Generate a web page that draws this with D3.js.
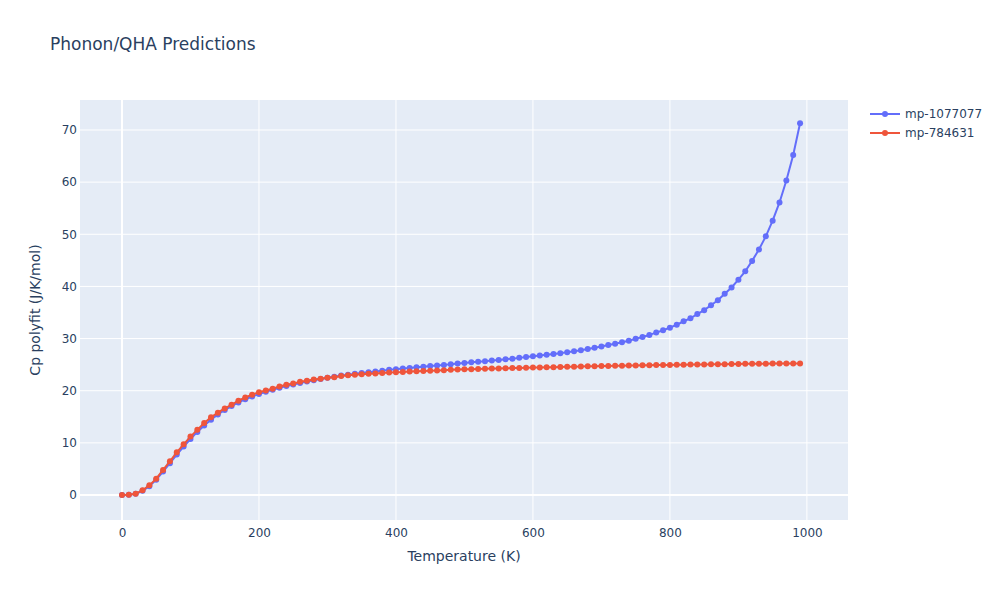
<!DOCTYPE html>
<html>
<head>
<meta charset="utf-8">
<script src="https://cdn.jsdelivr.net/npm/d3@7"></script>
<style>
  body { margin: 0; background: #fff; }
  svg text { font-family: "DejaVu Sans", verdana, arial, sans-serif; }
</style>
</head>
<body>
<svg id="chart" width="1000" height="600"></svg>
<script>
const temperatures = d3.range(0, 1000, 10);

const seriesNames = ["mp-1077077", "mp-784631"];

const cpBlue = [
  0, 0.05, 0.22, 0.8, 1.7, 2.95, 4.5, 6.1, 7.75, 9.3,
  10.75, 12.1, 13.35, 14.45, 15.45, 16.3, 17.05, 17.75, 18.35, 18.9,
  19.35, 19.8, 20.2, 20.55, 20.9, 21.2, 21.5, 21.75, 22.0, 22.25,
  22.5, 22.7, 22.9, 23.05, 23.25, 23.4, 23.55, 23.7, 23.85, 24.0,
  24.1, 24.25, 24.35, 24.5, 24.6, 24.75, 24.85, 24.95, 25.1, 25.2,
  25.3, 25.45, 25.55, 25.65, 25.8, 25.9, 26.05, 26.15, 26.3, 26.45,
  26.6, 26.75, 26.9, 27.05, 27.2, 27.4, 27.55, 27.75, 28.0, 28.25,
  28.5, 28.75, 29.0, 29.3, 29.6, 29.95, 30.3, 30.7, 31.15, 31.6,
  32.1, 32.65, 33.3, 33.9, 34.7, 35.45, 36.4, 37.35, 38.6, 39.8,
  41.3, 42.9, 44.9, 47.1, 49.6, 52.6, 56.1, 60.3, 65.2, 71.3
];

const cpRed = [
  0, 0.06, 0.25, 0.9, 1.85, 3.13, 4.8, 6.46, 8.18, 9.72,
  11.2, 12.5, 13.8, 14.9, 15.8, 16.6, 17.3, 18.1, 18.7, 19.25,
  19.7, 20.05, 20.4, 20.8, 21.15, 21.4, 21.7, 21.9, 22.15, 22.3,
  22.5, 22.6, 22.8, 22.95, 23.05, 23.15, 23.25, 23.3, 23.4, 23.5,
  23.55, 23.6, 23.7, 23.75, 23.8, 23.85, 23.9, 23.95, 24.0, 24.05,
  24.1, 24.13, 24.17, 24.2, 24.24, 24.28, 24.31, 24.34, 24.37, 24.4,
  24.43, 24.46, 24.49, 24.52, 24.55, 24.58, 24.61, 24.64, 24.67, 24.7,
  24.73, 24.76, 24.79, 24.81, 24.83, 24.85, 24.87, 24.89, 24.91, 24.93,
  24.95, 24.97, 24.99, 25.01, 25.03, 25.05, 25.07, 25.09, 25.1, 25.12,
  25.13, 25.15, 25.16, 25.18, 25.19, 25.2, 25.21, 25.22, 25.23, 25.24
];

const xTicks = [0, 200, 400, 600, 800, 1000];
const yTicks = [0, 10, 20, 30, 40, 50, 60, 70];

const titleText = "Phonon/QHA Predictions";
const xTitle = "Temperature (K)";
const yTitle = "Cp polyfit (J/K/mol)";

const colors = ["#636efa", "#EF553B"];
const textColor = "#2a3f5f";
const fontFam = '"DejaVu Sans", verdana, arial, sans-serif';

const svg = d3.select("#chart");
const plot = { left: 80, top: 100, right: 848, bottom: 520 };

const x = d3.scaleLinear().domain([-61.3, 1060]).range([plot.left, plot.right]);
const y = d3.scaleLinear().domain([-4.79, 75.75]).range([plot.bottom, plot.top]);

svg.append("rect")
  .attr("x", plot.left).attr("y", plot.top)
  .attr("width", plot.right - plot.left).attr("height", plot.bottom - plot.top)
  .attr("fill", "#E5ECF6");

// grid
const grid = svg.append("g");
grid.selectAll(".gx").data(xTicks).enter().append("line")
  .attr("x1", d => x(d)).attr("x2", d => x(d))
  .attr("y1", plot.top).attr("y2", plot.bottom)
  .attr("stroke", "#fff").attr("stroke-width", d => d === 0 ? 2 : 1);
grid.selectAll(".gy").data(yTicks).enter().append("line")
  .attr("x1", plot.left).attr("x2", plot.right)
  .attr("y1", d => y(d)).attr("y2", d => y(d))
  .attr("stroke", "#fff").attr("stroke-width", d => d === 0 ? 2 : 1);

// axes (labels only)
const xAxis = svg.append("g").attr("transform", `translate(0,${plot.bottom})`)
  .call(d3.axisBottom(x).tickValues(xTicks).tickSize(0).tickPadding(8).tickFormat(d3.format("d")));
const yAxis = svg.append("g").attr("transform", `translate(${plot.left},0)`)
  .call(d3.axisLeft(y).tickValues(yTicks).tickSize(0).tickPadding(3).tickFormat(d3.format("d")));
[xAxis, yAxis].forEach(a => {
  a.select(".domain").remove();
  a.selectAll("text").attr("fill", textColor).style("font-size", "12px")
    .style("font-family", fontFam);
});

// series
const seriesData = [cpBlue, cpRed];
const line = d3.line().x(d => x(d[0])).y(d => y(d[1]));
seriesData.forEach((vals, i) => {
  const pts = temperatures.map((t, j) => [t, vals[j]]);
  const g = svg.append("g");
  g.append("path").datum(pts).attr("d", line)
    .attr("fill", "none").attr("stroke", colors[i]).attr("stroke-width", 2)
    .attr("stroke-linejoin", "round");
  g.selectAll("circle").data(pts).enter().append("circle")
    .attr("cx", d => x(d[0])).attr("cy", d => y(d[1])).attr("r", 3)
    .attr("fill", colors[i]);
});

// title
svg.append("text").attr("x", 50).attr("y", 50)
  .attr("fill", textColor).style("font-size", "17px").text(titleText);

// axis titles
svg.append("text").attr("x", (plot.left + plot.right) / 2).attr("y", 561)
  .attr("text-anchor", "middle").attr("fill", textColor).style("font-size", "14px").text(xTitle);
svg.append("text")
  .attr("transform", `translate(40,${(plot.top + plot.bottom) / 2}) rotate(-90)`)
  .attr("text-anchor", "middle").attr("fill", textColor).style("font-size", "14px").text(yTitle);

// legend
const legend = svg.append("g");
seriesNames.forEach((name, i) => {
  const ly = 114 + i * 19;
  legend.append("line").attr("x1", 870).attr("x2", 900).attr("y1", ly).attr("y2", ly)
    .attr("stroke", colors[i]).attr("stroke-width", 2);
  legend.append("circle").attr("cx", 885).attr("cy", ly).attr("r", 3).attr("fill", colors[i]);
  legend.append("text").attr("x", 905).attr("y", ly + 4)
    .attr("fill", textColor).style("font-size", "12px").text(name);
});
</script>
</body>
</html>
